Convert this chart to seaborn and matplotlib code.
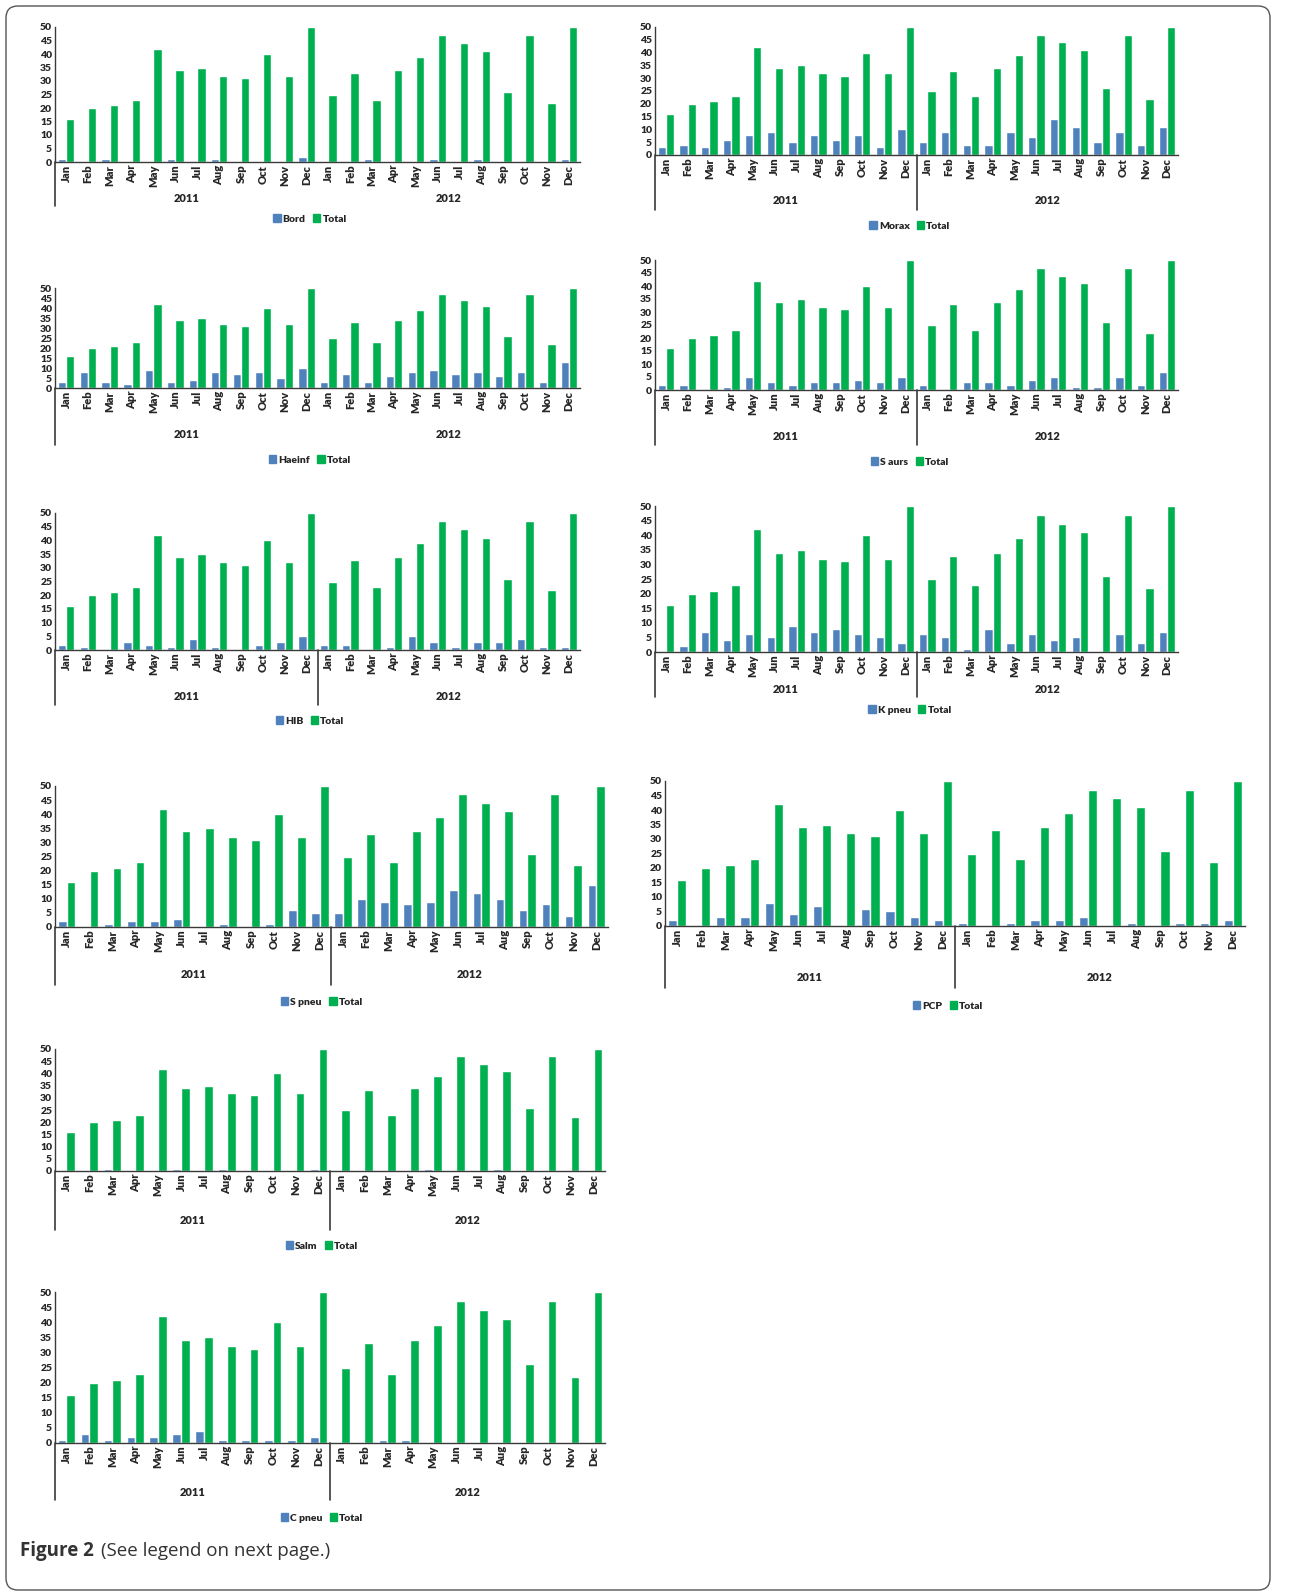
import pandas as pd
import matplotlib.pyplot as plt
import seaborn as sns
from matplotlib.patches import Patch, FancyBboxPatch

months = ['Jan', 'Feb', 'Mar', 'Apr', 'May', 'Jun',
          'Jul', 'Aug', 'Sep', 'Oct', 'Nov', 'Dec']
years = ['2011', '2012']

# monthly totals, 2011 then 2012 (same in every panel)
total = [16, 20, 21, 23, 42, 34, 35, 32, 31, 40, 32, 50,
         25, 33, 23, 34, 39, 47, 44, 41, 26, 47, 22, 50]

bord = [1, 0, 1, 0, 0, 1, 0, 1, 0, 0, 0, 2,
        0, 0, 1, 0, 0, 1, 0, 1, 0, 0, 0, 1]
morax = [3, 4, 3, 6, 8, 9, 5, 8, 6, 8, 3, 10,
         5, 9, 4, 4, 9, 7, 14, 11, 5, 9, 4, 11]
haeinf = [3, 8, 3, 2, 9, 3, 4, 8, 7, 8, 5, 10,
          3, 7, 3, 6, 8, 9, 7, 8, 6, 8, 3, 13]
saurs = [2, 2, 0, 1, 5, 3, 2, 3, 3, 4, 3, 5,
         2, 0, 3, 3, 2, 4, 5, 1, 1, 5, 2, 7]
hib = [2, 1, 0, 3, 2, 1, 4, 1, 0, 2, 3, 5,
       2, 2, 0, 1, 5, 3, 1, 3, 3, 4, 1, 1]
kpneu = [0, 2, 7, 4, 6, 5, 9, 7, 8, 6, 5, 3,
         6, 5, 1, 8, 3, 6, 4, 5, 0, 6, 3, 7]
spneu = [2, 0, 1, 2, 2, 3, 0, 1, 0, 1, 6, 5,
         5, 10, 9, 8, 9, 13, 12, 10, 6, 8, 4, 15]
pcp = [2, 0, 3, 3, 8, 4, 7, 0, 6, 5, 3, 2,
       1, 0, 1, 2, 2, 3, 0, 1, 0, 1, 1, 2]
salm = [0, 0, 1, 0, 0, 1, 0, 1, 0, 0, 0, 1,
        0, 0, 0, 0, 1, 0, 0, 1, 0, 0, 0, 0]
cpneu = [1, 3, 1, 2, 2, 3, 4, 1, 1, 1, 1, 2,
         0, 0, 1, 1, 0, 0, 0, 0, 0, 0, 0, 0]

W, H = 1290, 1593
BLUE = '#4F81BD'
GREEN = '#00B050'
AXC = '#3a3a3a'

# name, values, (x_left, x_right, y_of_50, y_of_0), line bottom, year y, legend xy, middle line
panels = [
    ('Bord', bord, (55, 580, 27, 162), 206, 199, (310, 219), False),
    ('Morax', morax, (655, 1178, 27, 155), 210, 201, (910, 226), True),
    ('Haeinf', haeinf, (55, 580, 288, 388), 445, 435, (310, 460), False),
    ('S aurs', saurs, (655, 1178, 260, 390), 445, 436, (910, 462), True),
    ('HIB', hib, (55, 580, 513, 650), 705, 696, (310, 721), True),
    ('K pneu', kpneu, (655, 1178, 506, 652), 697, 689, (910, 710), True),
    ('S pneu', spneu, (55, 608, 786, 927), 985, 975, (322, 1002), True),
    ('PCP', pcp, (665, 1245, 781, 926), 988, 978, (948, 1006), True),
    ('Salm', salm, (55, 605, 1049, 1171), 1230, 1220, (322, 1246), True),
    ('C pneu', cpneu, (55, 605, 1292, 1443), 1500, 1492, (322, 1518), True),
]

sns.set_style('white')
plt.rcParams['font.family'] = ['Lato', 'DejaVu Sans']


def draw_panel(fig, name, vals, box, line_bot, year_y, leg_xy, mid_line):
    x0, x1, y50, y0 = box
    ax = fig.add_axes([x0 / W, 1 - y0 / H, (x1 - x0) / W, (y0 - y50) / H])
    keys = [y + '-' + m for y in years for m in months]
    df = pd.DataFrame({'key': keys * 2,
                       'count': list(vals) + list(total),
                       'series': [name] * 24 + ['Total'] * 24})
    sns.barplot(data=df, x='key', y='count', hue='series', order=keys,
                hue_order=[name, 'Total'], palette=[BLUE, GREEN],
                saturation=1, width=0.76, errorbar=None, legend=False, ax=ax)
    ax.set_xlim(-0.5, 23.5)
    ax.set_ylim(0, 50)
    ax.set_yticks(range(0, 51, 5))
    ax.set_yticklabels([str(v) for v in range(0, 51, 5)],
                       fontsize=7.5, fontweight='heavy')
    ax.set_xticks(range(24))
    ax.set_xticklabels(months * 2, rotation=90, fontsize=8, fontweight='heavy')
    ax.tick_params(axis='both', length=0, pad=2)
    ax.set_xlabel('')
    ax.set_ylabel('')
    sns.despine(ax=ax)
    for s in ['left', 'bottom']:
        ax.spines[s].set_color(AXC)
        ax.spines[s].set_linewidth(1.0)

    # category group lines and year labels under the axis
    hgt = y0 - y50
    tr = ax.get_xaxis_transform()
    ext = -(line_bot - y0) / hgt
    seps = [-0.5, 11.5] if mid_line else [-0.5]
    for xs in seps:
        ax.plot([xs, xs], [0, ext], color=AXC, lw=1.2, transform=tr, clip_on=False)
    for i, yr in enumerate(years):
        ax.text(5.5 + 12 * i, -(year_y - y0) / hgt, yr, transform=tr,
                ha='center', va='center', fontsize=8, fontweight='heavy')

    handles = [Patch(color=BLUE), Patch(color=GREEN)]
    fig.legend(handles, [name, 'Total'], loc='center',
               bbox_to_anchor=(leg_xy[0] / W, 1 - leg_xy[1] / H), ncol=2,
               frameon=False, prop={'size': 7.5, 'weight': 'heavy'},
               handlelength=0.7, handleheight=0.7, handletextpad=0.2,
               columnspacing=0.7, borderpad=0)
    return ax


fig = plt.figure(figsize=(W / 100, H / 100), dpi=100)

for name, vals, box, line_bot, year_y, leg_xy, mid_line in panels:
    draw_panel(fig, name, vals, box, line_bot, year_y, leg_xy, mid_line)

# frame around the figure
frame = FancyBboxPatch((0.06, 0.03), 12.64, 15.84,
                       boxstyle='round,pad=0,rounding_size=0.12',
                       transform=fig.dpi_scale_trans, fill=False,
                       edgecolor='#555555', lw=1.0)
fig.patches.append(frame)

fig.text(20 / W, 1 - 1551 / H, 'Figure 2', fontsize=13.5, fontweight='bold',
         family=['Open Sans', 'DejaVu Sans'], color='#333333', va='center')
fig.text(101 / W, 1 - 1551 / H, '(See legend on next page.)', fontsize=13.5,
         family=['Open Sans', 'DejaVu Sans'], color='#333333', va='center')

fig.savefig('out.png', dpi=100)
